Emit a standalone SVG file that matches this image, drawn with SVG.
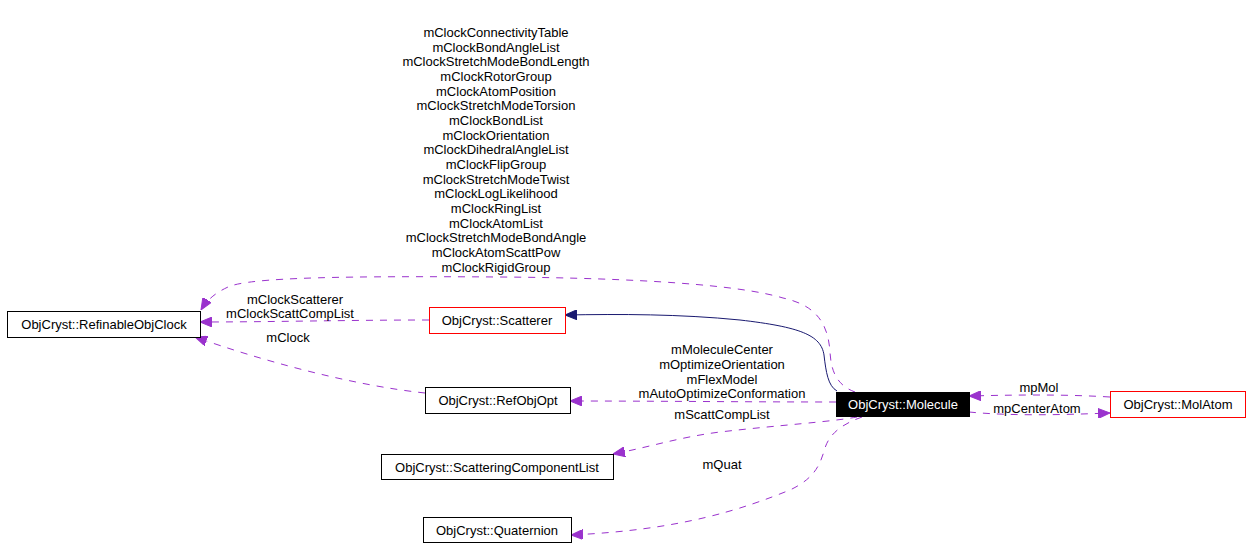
<svg xmlns="http://www.w3.org/2000/svg" width="1252" height="560" viewBox="0 0 1252 560">
<style>
text{font-family:"Liberation Sans",Arial,sans-serif;font-size:13px;text-anchor:middle;fill:#000}
.box{fill:#fff;stroke:#000;stroke-width:1}
.red{fill:#fff;stroke:#ff0000;stroke-width:1}
.dash{fill:none;stroke:#9a32cd;stroke-width:1;stroke-dasharray:7,7;marker-end:url(#pa)}
.inh{fill:none;stroke:#191970;stroke-width:1;marker-end:url(#na)}
</style>
<defs>
<marker id="pa" viewBox="0 0 12 10" refX="12" refY="5" markerWidth="12" markerHeight="10" markerUnits="userSpaceOnUse" orient="auto">
<path d="M0,0 L12,5 L0,10 Z" fill="#9a32cd" stroke="#9a32cd"/>
</marker>
<marker id="na" viewBox="0 0 12 10" refX="12" refY="5" markerWidth="12" markerHeight="10" markerUnits="userSpaceOnUse" orient="auto">
<path d="M0,0 L12,5 L0,10 Z" fill="#191970" stroke="#191970"/>
</marker>
</defs>
<g id="connectors">
<path class="inh" d="M837,391 C828,386 826,372 824,355 C821,335 800,327 740,320 C680,314 620,314 565,315"/>
<path class="dash" d="M855,392 C836,385 831,370 830,352 C828,322 815,305 783,298 C740,285 640,278 500,277 C350,276 250,277 228,287 C215,293 207,300 201,310"/>
<path class="dash" d="M429,320 C350,320 270,322 200,322"/>
<path class="dash" d="M425,393 C350,385 260,360 195,337"/>
<path class="dash" d="M836,402 C750,402 650,401 570,401"/>
<path class="dash" d="M857,417 C830,422 780,425 720,432 C680,437 650,447 613,454"/>
<path class="dash" d="M862,417 C845,423 830,432 825,448 C820,465 815,478 790,490 C740,510 680,530 571,535"/>
<path class="dash" d="M1110,397 C1060,394 1010,395 969,396"/>
<path class="dash" d="M969,412 C1010,416 1060,415 1110,413"/>
<g id="labels">
<text x="496" y="37">mClockConnectivityTable</text>
<text x="496" y="52">mClockBondAngleList</text>
<text x="496" y="66">mClockStretchModeBondLength</text>
<text x="496" y="81">mClockRotorGroup</text>
<text x="496" y="96">mClockAtomPosition</text>
<text x="496" y="110">mClockStretchModeTorsion</text>
<text x="496" y="125">mClockBondList</text>
<text x="496" y="140">mClockOrientation</text>
<text x="496" y="154">mClockDihedralAngleList</text>
<text x="496" y="169">mClockFlipGroup</text>
<text x="496" y="184">mClockStretchModeTwist</text>
<text x="496" y="198">mClockLogLikelihood</text>
<text x="496" y="213">mClockRingList</text>
<text x="496" y="228">mClockAtomList</text>
<text x="496" y="242">mClockStretchModeBondAngle</text>
<text x="496" y="257">mClockAtomScattPow</text>
<text x="496" y="272">mClockRigidGroup</text>
<text x="295" y="304">mClockScatterer</text>
<text x="290" y="318">mClockScattCompList</text>
<text x="288" y="342">mClock</text>
<text x="722" y="354">mMoleculeCenter</text>
<text x="722" y="369">mOptimizeOrientation</text>
<text x="722" y="384">mFlexModel</text>
<text x="722" y="398">mAutoOptimizeConformation</text>
<text x="722" y="419">mScattCompList</text>
<text x="722" y="469">mQuat</text>
<text x="1039" y="392">mpMol</text>
<text x="1037" y="413">mpCenterAtom</text>
</g>
</g>
<g id="RefinableObjClock"><rect class="box" x="7.5" y="311.5" width="193" height="26"/><text x="104" y="329">ObjCryst::RefinableObjClock</text></g>
<g id="Scatterer"><rect class="red" x="429.5" y="307.5" width="136" height="26"/><text x="497" y="325">ObjCryst::Scatterer</text></g>
<g id="RefObjOpt"><rect class="box" x="425.5" y="387.5" width="145" height="26"/><text x="498" y="405">ObjCryst::RefObjOpt</text></g>
<g id="ScatteringComponentList"><rect class="box" x="381.5" y="454.5" width="232" height="25"/><text x="497" y="472">ObjCryst::ScatteringComponentList</text></g>
<g id="Quaternion"><rect class="box" x="423.5" y="517.5" width="148" height="25"/><text x="497" y="535">ObjCryst::Quaternion</text></g>
<g id="Molecule"><rect x="836" y="392" width="134" height="25" fill="#000"/><text x="903" y="409" style="fill:#fff">ObjCryst::Molecule</text></g>
<g id="MolAtom"><rect class="red" x="1110.5" y="391.5" width="135" height="26"/><text x="1178" y="409">ObjCryst::MolAtom</text></g>
</svg>
